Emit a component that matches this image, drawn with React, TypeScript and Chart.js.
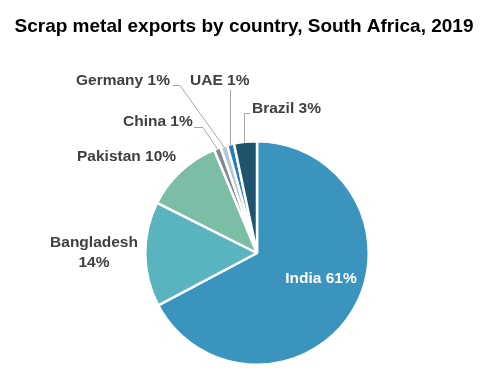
import React, { useEffect, useRef } from "react";
import { Chart, registerables } from "chart.js";

Chart.register(...registerables);

const titleText = "Scrap metal exports by country, South Africa, 2019";
const countries = ["India", "Bangladesh", "Pakistan", "China", "Germany", "UAE", "Brazil"];
const shares = [61.2, 13.8, 10.3, 0.9, 0.9, 0.9, 3.0];
const colors = ["#3A94BD", "#5AB4C0", "#7BBEA5", "#7E8A8E", "#B4C8D4", "#2A7BC0", "#1F546E"];

const FONT = "'Liberation Sans', Arial, sans-serif";
const LABEL_COLOR = "#404040";
const LINE_COLOR = "#A6A6A6";

const labelPlugin = {
  id: "labels",
  afterDraw(chart: any) {
    const ctx = chart.ctx;
    const meta = chart.getDatasetMeta(0);
    const pt = (i: number, extra = 0) => {
      const a: any = meta.data[i];
      const mid = (a.startAngle + a.endAngle) / 2;
      const r = a.outerRadius + extra;
      return { x: a.x + Math.cos(mid) * r, y: a.y + Math.sin(mid) * r, mid, a };
    };
    const txt = (i: number) => `${countries[i]} ${Math.round(shares[i])}%`;
    ctx.save();
    // title
    ctx.fillStyle = "#000";
    ctx.font = `bold 19px ${FONT}`;
    ctx.textAlign = "center";
    ctx.textBaseline = "middle";
    ctx.fillText(titleText, 244, 27);

    ctx.font = `bold 15.5px ${FONT}`;
    ctx.fillStyle = LABEL_COLOR;
    ctx.textBaseline = "middle";

    // India inside
    ctx.fillStyle = "#FFFFFF";
    ctx.textAlign = "center";
    ctx.fillText(txt(0), 321, 279);

    ctx.fillStyle = LABEL_COLOR;
    // Bangladesh two lines
    ctx.fillText(countries[1], 94, 243);
    ctx.fillText(`${Math.round(shares[1])}%`, 94, 263);
    // Pakistan
    ctx.textAlign = "left";
    ctx.fillText(txt(2), 77, 157);
    // China
    ctx.fillText(txt(3), 123, 122);
    // Germany
    ctx.fillText(txt(4), 76, 81);
    // UAE
    ctx.fillText(txt(5), 190, 81);
    // Brazil
    ctx.fillText(txt(6), 252, 109);

    // leader lines
    ctx.strokeStyle = LINE_COLOR;
    ctx.lineWidth = 1;
    const line = (pts: number[][]) => {
      ctx.beginPath();
      ctx.moveTo(pts[0][0], pts[0][1]);
      for (let k = 1; k < pts.length; k++) ctx.lineTo(pts[k][0], pts[k][1]);
      ctx.stroke();
    };
    const c = pt(3, -1);
    line([[194, 127.5], [203, 127.5], [c.x, c.y]]);
    const g = pt(4, -1);
    line([[173, 85.5], [180, 85.5], [g.x, g.y]]);
    const u = pt(5, -1);
    line([[Math.round(u.x) - 0.5, 90], [Math.round(u.x) - 0.5, u.y]]);
    const b = pt(6, -1);
    line([[250, 113.5], [Math.round(b.x) - 1.5, 113.5], [Math.round(b.x) - 1.5, b.y]]);
    ctx.restore();
  },
};

export default function App() {
  const ref = useRef<HTMLCanvasElement>(null);
  useEffect(() => {
    if (!ref.current) return;
    const chart = new Chart(ref.current, {
      type: "pie",
      data: {
        labels: countries,
        datasets: [
          {
            data: shares,
            backgroundColor: colors,
            borderColor: "#FFFFFF",
            borderWidth: 2.5,
          },
        ],
      },
      options: {
        responsive: false,
        animation: false,
        layout: { padding: { left: 144, right: 132, top: 140, bottom: 11 } },
        plugins: {
          legend: { display: false },
          title: { display: false },
          tooltip: { enabled: false },
        },
      },
      plugins: [labelPlugin],
    });
    return () => chart.destroy();
  }, []);
  return (
    <div style={{ position: "fixed", left: 0, top: 0, width: 502, height: 377, background: "#fff" }}>
      <canvas ref={ref} width={502} height={377} style={{ width: 502, height: 377 }} />
    </div>
  );
}
